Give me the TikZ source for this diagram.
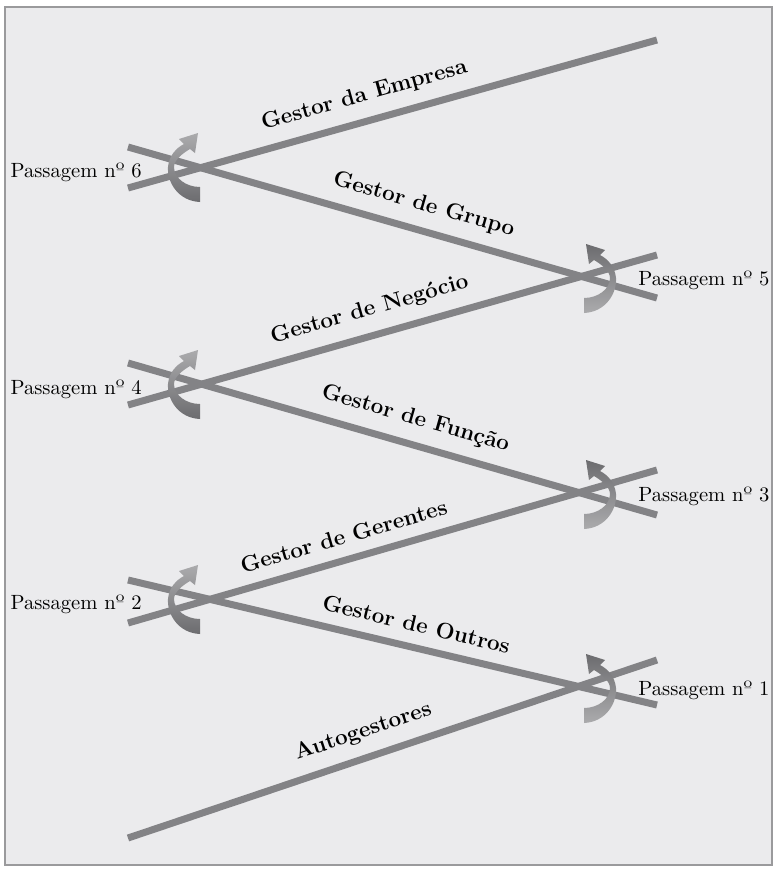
\documentclass[tikz,border=0pt]{standalone}
\usepackage{fontspec}

\definecolor{panelbg}{HTML}{EBEBED}
\definecolor{framegray}{HTML}{9A9A9C}
\definecolor{linegray}{HTML}{838386}
\definecolor{arrowdark}{HTML}{6C6C6F}
\definecolor{arrowlight}{HTML}{ABABAD}

\tikzset{
	career/.style={draw=linegray, line width=3.5pt},
	lbl/.style={font=\fontsize{11.2}{13}\selectfont\bfseries, sloped, above=5pt, inner sep=1pt},
	pass/.style={font=\fontsize{10.3}{12}\selectfont, inner sep=0pt},
	turn/.pic={
		\path[pic actions] (0,34) .. controls (-22,33) and (-33,14) .. (-32,-1)
			.. controls (-31,-12) and (-24,-20) .. (-16,-24)
			-- (-21,-29) -- (-2,-35) -- (-5,-15) -- (-10,-19)
			.. controls (-17,-15) and (-26,-8) .. (-26,-1)
			.. controls (-26,10) and (-14,19) .. (0,19) -- cycle;
	},
	turnleft/.style={top color=arrowlight, bottom color=arrowdark},
	turnright/.style={top color=arrowdark, bottom color=arrowlight, xscale=-1}
}

\begin{document}
\begin{tikzpicture}[x=0.5pt, y=-0.5pt]
	\useasboundingbox (0,0) rectangle (775,869);
	\fill[white] (0,0) rectangle (775,869);
	\filldraw[fill=panelbg, draw=framegray, line width=1pt] (5,7) rectangle (772,865);

	% ends of the career lines
	\coordinate (a1) at (128,838); \coordinate (a2) at (657,660);
	\coordinate (o1) at (128,580); \coordinate (o2) at (657,705);
	\coordinate (ge1) at (128,623); \coordinate (ge2) at (657,470);
	\coordinate (f1) at (128,363); \coordinate (f2) at (657,515);
	\coordinate (n1) at (128,405); \coordinate (n2) at (657,255);
	\coordinate (gr1) at (128,147); \coordinate (gr2) at (657,298);
	\coordinate (e1) at (128,188); \coordinate (e2) at (657,40);

	\draw[career] (a1) -- node[lbl, pos=0.46] (la) {Autogestores} (a2);
	\draw[career] (o1) -- node[lbl, pos=0.535] (lo) {Gestor de Outros} (o2);
	\draw[career] (ge1) -- node[lbl, pos=0.42] (lge) {Gestor de Gerentes} (ge2);
	\draw[career] (f1) -- node[lbl, pos=0.53] (lf) {Gestor de Função} (f2);
	\draw[career] (n1) -- node[lbl, pos=0.47] (ln) {Gestor de Negócio} (n2);
	\draw[career] (gr1) -- node[lbl, pos=0.546] (lgr) {Gestor de Grupo} (gr2);
	\draw[career] (e1) -- node[lbl, pos=0.46] (le) {Gestor da Empresa} (e2);

	% passages
	\coordinate (p1) at (580,687); \coordinate (p2) at (200,600);
	\coordinate (p3) at (580,493); \coordinate (p4) at (200,385);
	\coordinate (p5) at (580,277); \coordinate (p6) at (200,168);

	\pic[turnleft] at (p6) {turn};
	\pic[turnleft] at (p4) {turn};
	\pic[turnleft] at (p2) {turn};
	\pic[turnright] at ([shift={(4,2)}]p5) {turn};
	\pic[turnright] at ([shift={(4,2)}]p3) {turn};
	\pic[turnright] at ([shift={(4,2)}]p1) {turn};

	\node[pass, anchor=base east] (t6) at ([shift={(-58,9)}]p6) {Passagem nº 6};
	\node[pass, anchor=base east] (t4) at ([shift={(-58,9)}]p4) {Passagem nº 4};
	\node[pass, anchor=base east] (t2) at ([shift={(-58,9)}]p2) {Passagem nº 2};
	\node[pass, anchor=base west] (t5) at ([shift={(58,8)}]p5) {Passagem nº 5};
	\node[pass, anchor=base west] (t3) at ([shift={(58,8)}]p3) {Passagem nº 3};
	\node[pass, anchor=base west] (t1) at ([shift={(58,8)}]p1) {Passagem nº 1};
\end{tikzpicture}
\end{document}
